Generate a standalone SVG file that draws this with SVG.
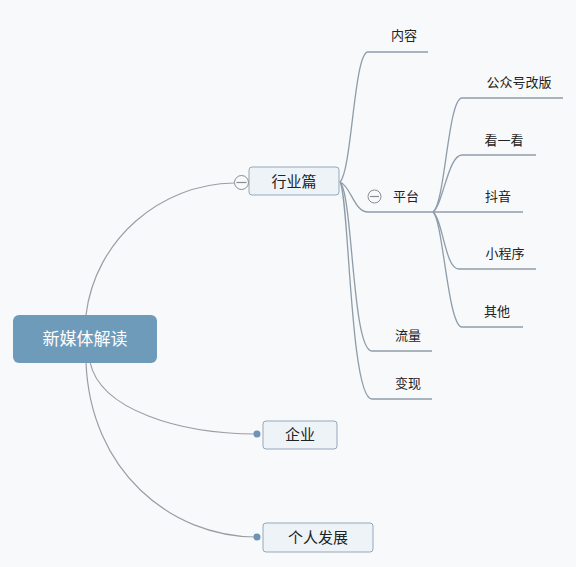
<svg xmlns="http://www.w3.org/2000/svg" width="576" height="567" viewBox="0 0 576 567">
<style>
.bg{fill:#f8f9fb}
.main{fill:none;stroke:#9a9ea4;stroke-width:1.2}
.sub{fill:none;stroke:#8e9dab;stroke-width:1.3}
.box{fill:#eef3f8;stroke:#95a8bb;stroke-width:1}
.root{fill:#6f9bbb}
.t{font-family:"Noto Sans CJK SC","Noto Sans",sans-serif;fill:#222;text-anchor:middle}
.leaf{font-size:13px}
.mid{font-size:15px}
.rt{font-size:17px;fill:#fff}
.dot{fill:#6f93b3}
.tog{fill:#f8f9fb;stroke:#8a8d90;stroke-width:1}
.togl{stroke:#8a8d90;stroke-width:1.2}
</style>
<rect class="bg" x="0" y="0" width="576" height="567"/>
<g id="connectors">
<path class="main" d="M86,315 C95,240 160,184 234,183"/>
<path class="main" d="M90,362 C100,410 180,434 257,434"/>
<path class="main" d="M86,362 C90,470 170,537 257,537"/>
<path class="sub" d="M340,182 C352,170 354,52 368,52 H428"/>
<path class="sub" d="M340,182 C351,186 354,212 368,212 H523"/>
<path class="sub" d="M340,182 C353,195 352,351 372,351 H432"/>
<path class="sub" d="M340,182 C349,195 350,399 372,399 H432"/>
<path class="sub" d="M433,212 C445,205 448,98 462,98 H563"/>
<path class="sub" d="M433,212 C443,205 448,155 462,155 H536"/>
<path class="sub" d="M433,212 C443,220 445,269 459,269 H536"/>
<path class="sub" d="M433,212 C443,220 448,327 462,327 H523"/>
<circle class="dot" cx="257" cy="434" r="3.5"/>
<circle class="dot" cx="257" cy="537" r="3.5"/>
</g>
<g id="root">
<rect class="root" x="13" y="315" width="144" height="48" rx="6"/>
<text class="t rt" x="85" y="345">新媒体解读</text>
</g>
<g id="hangye">
<rect class="box" x="249" y="167" width="90" height="28" rx="3"/>
<text class="t mid" x="294" y="187">行业篇</text>
<circle class="tog" cx="241.5" cy="182.5" r="7"/>
<line class="togl" x1="236.5" y1="182.5" x2="246.5" y2="182.5"/>
</g>
<g id="qiye">
<rect class="box" x="263" y="421" width="74" height="28" rx="3"/>
<text class="t mid" x="300" y="440">企业</text>
</g>
<g id="geren">
<rect class="box" x="263" y="523" width="110" height="29" rx="3"/>
<text class="t mid" x="318" y="543">个人发展</text>
</g>
<g id="neirong"><text class="t leaf" x="404" y="40">内容</text></g>
<g id="pingtai">
<circle class="tog" cx="374.5" cy="196.5" r="6.5"/>
<line class="togl" x1="370" y1="196.5" x2="379" y2="196.5"/>
<text class="t leaf" x="406" y="201">平台</text>
</g>
<g id="gzh"><text class="t leaf" x="519" y="87">公众号改版</text></g>
<g id="kyk"><text class="t leaf" x="504" y="145">看一看</text></g>
<g id="dy"><text class="t leaf" x="498" y="201">抖音</text></g>
<g id="xcx"><text class="t leaf" x="505" y="258">小程序</text></g>
<g id="qt"><text class="t leaf" x="497" y="316">其他</text></g>
<g id="ll"><text class="t leaf" x="408" y="340">流量</text></g>
<g id="bx"><text class="t leaf" x="408" y="388">变现</text></g>
</svg>
